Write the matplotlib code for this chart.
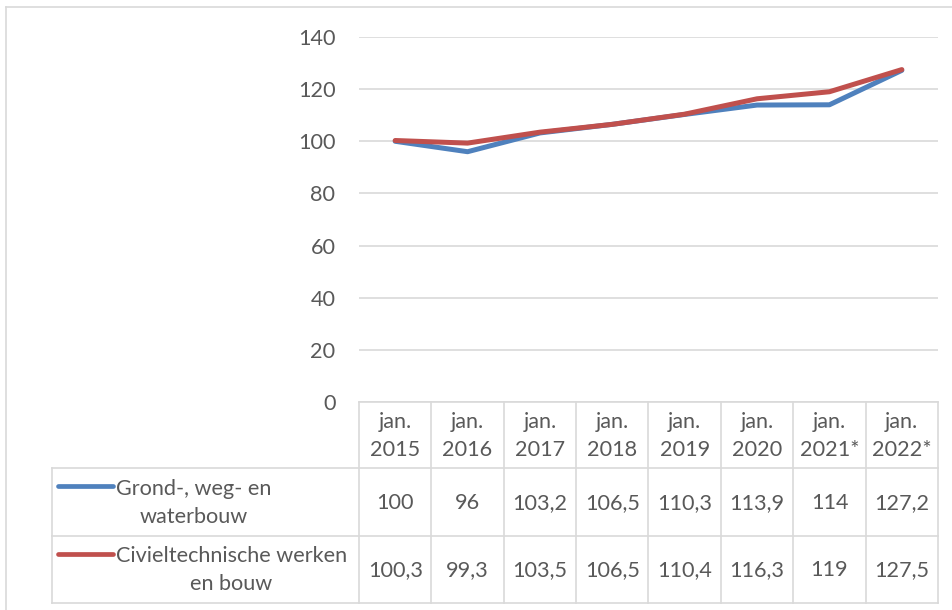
import numpy as np
import matplotlib.pyplot as plt
from matplotlib.lines import Line2D

plt.rcParams['font.family'] = ['Lato', 'DejaVu Sans']

# data
periods = ['jan.\n2015', 'jan.\n2016', 'jan.\n2017', 'jan.\n2018',
           'jan.\n2019', 'jan.\n2020', 'jan.\n2021*', 'jan.\n2022*']
grond = [100, 96, 103.2, 106.5, 110.3, 113.9, 114, 127.2]
civiel = [100.3, 99.3, 103.5, 106.5, 110.4, 116.3, 119, 127.5]
series_names = ['Grond-, weg- en\nwaterbouw', 'Civieltechnische werken\nen bouw']
series_colors = ['#4F81BD', '#C0504D']
yticks = [0, 20, 40, 60, 80, 100, 120, 140]

txt = '#595959'
grid = '#D9D9D9'
fs = 15.6

W, H = 952, 610
fig = plt.figure(figsize=(W / 100, H / 100), dpi=100)

def fx(px):
    return px / W

def fy(py):
    return 1 - py / H

# outer chart border
fig.add_artist(Line2D([fx(6), fx(6)], [fy(7), 0], color=grid, lw=1.2))
fig.add_artist(Line2D([fx(6), 1], [fy(7), fy(7)], color=grid, lw=1.2))

# plot area
x0, x1 = 359, 938
ytop, ybot = 37, 402
ax = fig.add_axes([fx(x0), fy(ybot), fx(x1 - x0), (ybot - ytop) / H])
x = np.arange(len(periods))
for vals, c in zip([grond, civiel], series_colors):
    ax.plot(x, vals, color=c, lw=3.6, solid_capstyle='round', solid_joinstyle='round', zorder=3)
ax.set_xlim(-0.5, len(periods) - 0.5)
ax.set_ylim(0, 140)
ax.set_yticks(yticks)
ax.set_yticklabels([str(v) for v in yticks], color=txt, fontsize=fs)
ax.tick_params(axis='y', length=0, pad=17)
ax.set_xticks([])
ax.grid(axis='y', color=grid, lw=1.2)
for s in ax.spines.values():
    s.set_visible(False)
ax.set_facecolor('none')

# data table
tl = 52
rows_y = [402, 468, 536, 603]
tab = fig.add_axes([fx(tl), fy(rows_y[-1]), fx(x1 - tl), (rows_y[-1] - rows_y[0]) / H])
tab.set_xlim(tl, x1)
tab.set_ylim(rows_y[-1], rows_y[0])
tab.axis('off')
colw = (x1 - x0) / len(periods)
col_edges = [x0 + i * colw for i in range(len(periods) + 1)]

lk = dict(color=grid, lw=1.2, clip_on=False)
# horizontal lines
tab.plot([x0, x1], [rows_y[0], rows_y[0]], **lk)
for yy in rows_y[1:]:
    tab.plot([tl, x1], [yy, yy], **lk)
# vertical lines
for xe in col_edges:
    tab.plot([xe, xe], [rows_y[0], rows_y[-1]], **lk)
tab.plot([tl, tl], [rows_y[1], rows_y[-1]], **lk)

# header
hy = (rows_y[0] + rows_y[1]) / 2
for i, p in enumerate(periods):
    tab.text(x0 + (i + 0.5) * colw, hy + 1, p, ha='center', va='center',
             color=txt, fontsize=fs, linespacing=1.45)

# series rows
for r, (name, vals, c) in enumerate(zip(series_names, [grond, civiel], series_colors)):
    cy = (rows_y[r + 1] + rows_y[r + 2]) / 2
    tab.plot([58, 113], [cy - 16, cy - 16], color=c, lw=3.4, solid_capstyle='round', clip_on=False)
    tab.text(116, cy + 1, name, ha='left', va='center', multialignment='center',
             color=txt, fontsize=fs, linespacing=1.5)
    for i, v in enumerate(vals):
        lab = ('%g' % v).replace('.', ',')
        tab.text(x0 + (i + 0.5) * colw, cy + 1, lab, ha='center', va='center',
                 color=txt, fontsize=fs)

fig.savefig('out.png', dpi=100, facecolor='white')
